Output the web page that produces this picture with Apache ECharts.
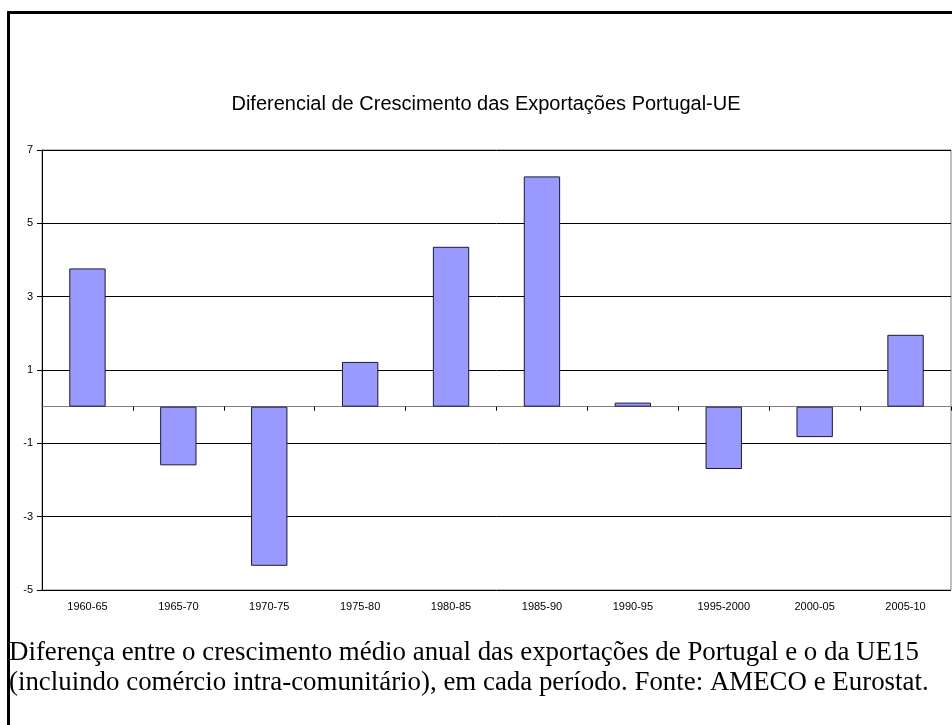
<!DOCTYPE html>
<html>
<head>
<meta charset="utf-8">
<script src="https://cdn.jsdelivr.net/npm/echarts@6/dist/echarts.min.js"></script>
<style>
  html, body { margin: 0; padding: 0; background: #fff; }
  #chart { width: 952px; height: 725px; }
</style>
</head>
<body>
<div id="chart"></div>
<script>
// periods on the x axis
const categories = ['1960-65', '1965-70', '1970-75', '1975-80', '1980-85',
                    '1985-90', '1990-95', '1995-2000', '2000-05', '2005-10'];
// export growth differential Portugal - EU (p.p.)
const diffValues = [3.77, -1.60, -4.34, 1.22, 4.36, 6.28, 0.11, -1.70, -0.83, 1.96];
const yTicks = { min: -5, max: 7, step: 2 };

const titleText = 'Diferencial de Crescimento das Exportações Portugal-UE';
const captionLines = [
    'Diferença entre o crescimento médio anual das exportações de Portugal e o da UE15',
    '(incluindo comércio intra-comunitário), em cada período. Fonte: AMECO e Eurostat.'
];

const chart = echarts.init(document.getElementById('chart'));

const option = {
    animation: false,
    backgroundColor: '#fff',
    title: {
        text: titleText,
        left: 481,
        top: 89,
        textAlign: 'center',
        textStyle: { fontFamily: 'Liberation Sans', fontSize: 20, fontWeight: 'normal', color: '#000' }
    },
    grid: {
        left: 42, right: 1, top: 150, bottom: 135,
        show: true,
        borderColor: '#808080',
        borderWidth: 1
    },
    xAxis: [
        {
            type: 'category',
            data: categories,
            position: 'bottom',
            axisLine: { show: false, onZero: false },
            axisTick: { show: false },
            axisLabel: { color: '#000', fontFamily: 'Liberation Sans', fontSize: 11, margin: 11 },
            splitLine: { show: false }
        },
        {
            // zero line with the category boundary ticks
            type: 'category',
            data: categories,
            position: 'top',
            axisLine: { show: true, onZero: true, lineStyle: { color: '#808080', width: 1 } },
            axisTick: { show: true, inside: true, length: 4, lineStyle: { color: '#000' } },
            axisLabel: { show: false },
            splitLine: { show: false }
        }
    ],
    yAxis: {
        type: 'value',
        min: yTicks.min,
        max: yTicks.max,
        interval: yTicks.step,
        axisLine: { show: true, lineStyle: { color: '#000' } },
        axisTick: { show: true, length: 5, lineStyle: { color: '#000' } },
        axisLabel: { color: '#000', fontFamily: 'Liberation Sans', fontSize: 11, margin: 9 },
        splitLine: { show: true, lineStyle: { color: '#000', width: 1 } }
    },
    series: [
        {
            type: 'bar',
            xAxisIndex: 0,
            data: diffValues,
            barWidth: '40%',
            itemStyle: { color: '#9999ff', borderColor: '#1a1a33', borderWidth: 1 }
        }
    ],
    graphic: [
        {
            type: 'rect',
            shape: { x: 8.5, y: 12.5, width: 1000, height: 800 },
            style: { fill: 'none', stroke: '#000', lineWidth: 3 },
            silent: true
        },
        {
            type: 'text',
            x: 9,
            y: 638,
            scaleX: 0.96,
            style: {
                text: captionLines.join('\n'),
                font: '28px "Liberation Serif"',
                fill: '#000',
                lineHeight: 30
            }
        }
    ]
};

chart.setOption(option);
</script>
</body>
</html>
